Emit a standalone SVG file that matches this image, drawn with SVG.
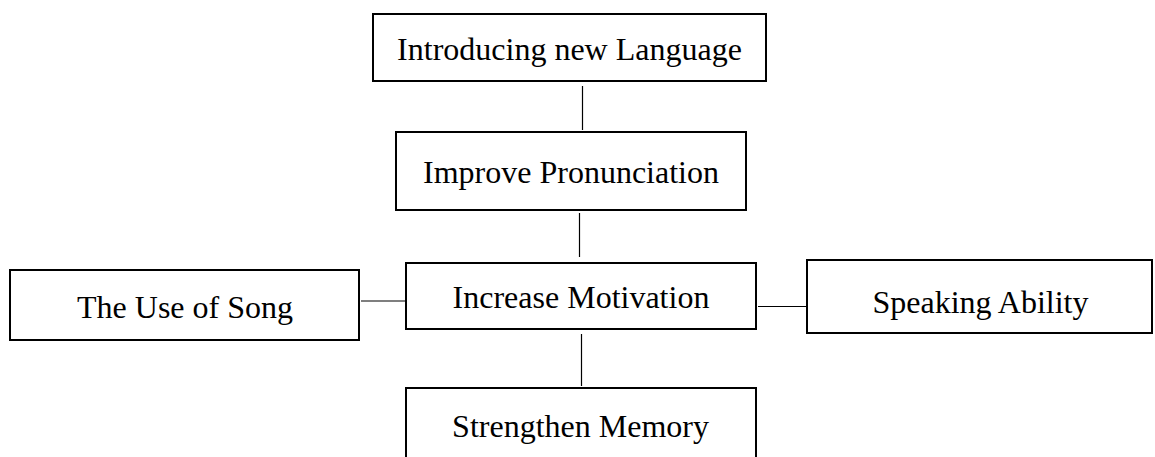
<svg xmlns="http://www.w3.org/2000/svg" width="1155" height="457" viewBox="0 0 1155 457">
<style>
.box{fill:#fff;stroke:#000;stroke-width:2}
.lbl{font-family:"Liberation Serif","Times New Roman",serif;font-size:32px;fill:#000;text-anchor:middle}
.con line{stroke:#000;stroke-width:1.2}
</style>
<rect width="1155" height="457" fill="#fff"/>
<g id="connectors" class="con">
<line x1="582.5" y1="86" x2="582.5" y2="130"/>
<line x1="579.5" y1="213" x2="579.5" y2="257"/>
<line x1="581.5" y1="334" x2="581.5" y2="386"/>
<line x1="361" y1="301" x2="405" y2="301"/>
<line x1="758" y1="306.5" x2="806" y2="306.5"/>
</g>
<g id="n1"><rect class="box" x="373" y="14" width="393" height="67"/><text class="lbl" x="569.5" y="60">Introducing new Language</text></g>
<g id="n2"><rect class="box" x="396" y="132" width="350" height="78"/><text class="lbl" x="571" y="183">Improve Pronunciation</text></g>
<g id="n3"><rect class="box" x="406" y="263" width="350" height="66"/><text class="lbl" x="581" y="308">Increase Motivation</text></g>
<g id="n4"><rect class="box" x="10" y="270" width="349" height="70"/><text class="lbl" x="185" y="318">The Use of Song</text></g>
<g id="n5"><rect class="box" x="406" y="388" width="350" height="80"/><text class="lbl" x="580.5" y="437">Strengthen Memory</text></g>
<g id="n6"><rect class="box" x="807" y="260" width="345" height="73"/><text class="lbl" x="980.5" y="313">Speaking Ability</text></g>
</svg>
